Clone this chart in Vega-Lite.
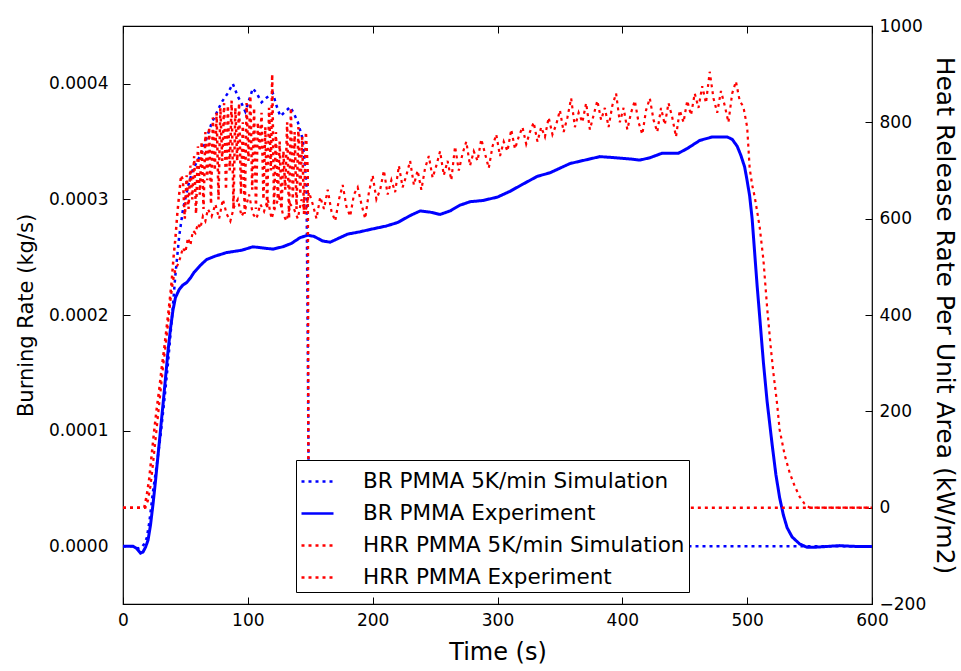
{
  "$schema": "https://vega.github.io/schema/vega-lite/v6.json",
  "width": 749,
  "height": 578,
  "autosize": {"type": "none"},
  "padding": {"left": 123, "top": 26, "right": 89, "bottom": 67},
  "background": "white",
  "config": {
    "font": "DejaVu Sans",
    "view": {"stroke": "black", "strokeWidth": 1.2},
    "axis": {
      "grid": false, "domain": false, "tickColor": "black", "tickSize": -7, "tickWidth": 1,
      "labelColor": "black", "titleColor": "black", "labelFont": "DejaVu Sans", "titleFont": "DejaVu Sans",
      "labelFontSize": 17, "titleFontSize": 21, "titleFontWeight": "normal"
    },
    "legend": {
      "orient": "none", "legendX": 173, "legendY": 434, "direction": "vertical",
      "strokeColor": "black", "fillColor": "white", "padding": 4, "cornerRadius": 0,
      "symbolType": "stroke", "symbolSize": 1024, "symbolStrokeWidth": 2.5,
      "labelFont": "DejaVu Sans", "labelFontSize": 21.5, "labelColor": "black", "labelOffset": 28,
      "rowPadding": 4, "labelLimit": 400
    }
  },
  "resolve": {"scale": {"y": "independent"}, "axis": {"x": "independent", "y": "independent"}},
  "layer": [
    {
      "data": {"values": [
        {"t":0,"v":0},{"t":8,"v":0},{"t":12,"v":-0.000002},{"t":15,"v":-0.000001},{"t":17,"v":0.000002},{"t":19,"v":0.000007},{"t":21,"v":0.00002},{"t":24,"v":0.000047},{"t":27,"v":0.00007},{"t":30,"v":0.000095},{"t":33,"v":0.000125},{"t":36,"v":0.000158},{"t":39,"v":0.000195},{"t":42,"v":0.000235},{"t":45,"v":0.000268},{"t":48,"v":0.000291},{"t":52,"v":0.000311},{"t":56,"v":0.000326},{"t":60,"v":0.000334},{"t":63,"v":0.00034},{"t":67,"v":0.000353},{"t":71,"v":0.000366},{"t":75,"v":0.000375},{"t":79,"v":0.000384},{"t":84,"v":0.000392},{"t":88,"v":0.0004},{"t":92,"v":0.000389},{"t":95,"v":0.000383},{"t":98,"v":0.000376},{"t":101,"v":0.000386},{"t":104,"v":0.000396},{"t":107,"v":0.000392},{"t":111,"v":0.000384},{"t":115,"v":0.000388},{"t":120,"v":0.000392},{"t":123,"v":0.000381},{"t":126,"v":0.000372},{"t":130,"v":0.000376},{"t":134,"v":0.00038},{"t":137,"v":0.000374},{"t":140,"v":0.000367},{"t":144,"v":0.000352},{"t":147,"v":0.000311},{"t":148,"v":0.00018},{"t":149,"v":0},{"t":250,"v":0},{"t":350,"v":0},{"t":450,"v":0},{"t":600,"v":0}
      ]},
      "mark": {"type": "line", "strokeWidth": 2.5, "strokeCap": "butt"},
      "encoding": {
        "x": {"field": "t", "type": "quantitative", "scale": {"domain": [0, 600], "nice": false},
              "axis": {"orient": "bottom", "values": [0,100,200,300,400,500,600], "title": "Time (s)", "titleFontSize": 24, "labelPadding": 15, "titlePadding": 12, "labelFlush": false}},
        "y": {"field": "v", "type": "quantitative", "scale": {"domain": [-0.00005, 0.00045], "nice": false, "zero": false},
              "axis": {"orient": "left", "values": [0,0.0001,0.0002,0.0003,0.0004], "format": ".4f", "title": "Burning Rate (kg/s)", "labelPadding": 22, "titlePadding": 12}},
        "color": {"datum": "BR PMMA 5K/min Simulation", "type": "nominal",
                  "scale": {"domain": ["BR PMMA 5K/min Simulation","BR PMMA Experiment","HRR PMMA 5K/min Simulation","HRR PMMA Experiment"], "range": ["#0000ff","#0000ff","#ff0000","#ff0000"]},
                  "legend": {"title": null}},
        "strokeDash": {"datum": "BR PMMA 5K/min Simulation", "type": "nominal",
                  "scale": {"domain": ["BR PMMA 5K/min Simulation","BR PMMA Experiment","HRR PMMA 5K/min Simulation","HRR PMMA Experiment"], "range": [[3,4],[1,0],[3,4],[3,4]]},
                  "legend": {"title": null}}
      }
    },
    {
      "data": {"values": [
        {"t":0,"v":0},{"t":8,"v":0},{"t":11,"v":-0.000002},{"t":14,"v":-0.000006},{"t":16,"v":-0.000005},{"t":18,"v":-0.000001},{"t":20,"v":0.000005},{"t":22,"v":0.000018},{"t":24,"v":0.000036},{"t":26,"v":0.000056},{"t":28,"v":0.000078},{"t":30,"v":0.0001},{"t":32,"v":0.000122},{"t":34,"v":0.000145},{"t":36,"v":0.000168},{"t":38,"v":0.000188},{"t":40,"v":0.000204},{"t":42,"v":0.000215},{"t":45,"v":0.000222},{"t":48,"v":0.000226},{"t":51,"v":0.000228},{"t":54,"v":0.000232},{"t":57,"v":0.000237},{"t":62,"v":0.000243},{"t":67,"v":0.000248},{"t":74,"v":0.000251},{"t":83,"v":0.000254},{"t":95,"v":0.000256},{"t":104,"v":0.000259},{"t":112,"v":0.000258},{"t":120,"v":0.000257},{"t":128,"v":0.000259},{"t":135,"v":0.000262},{"t":142,"v":0.000267},{"t":148,"v":0.000269},{"t":153,"v":0.000268},{"t":160,"v":0.000264},{"t":166,"v":0.000263},{"t":172,"v":0.000266},{"t":180,"v":0.00027},{"t":190,"v":0.000272},{"t":198,"v":0.000274},{"t":211,"v":0.000277},{"t":220,"v":0.00028},{"t":230,"v":0.000286},{"t":238,"v":0.00029},{"t":246,"v":0.000289},{"t":254,"v":0.000287},{"t":262,"v":0.00029},{"t":270,"v":0.000295},{"t":278,"v":0.000298},{"t":288,"v":0.000299},{"t":300,"v":0.000302},{"t":310,"v":0.000307},{"t":320,"v":0.000313},{"t":332,"v":0.00032},{"t":342,"v":0.000323},{"t":350,"v":0.000327},{"t":358,"v":0.000331},{"t":370,"v":0.000334},{"t":382,"v":0.000337},{"t":395,"v":0.000336},{"t":406,"v":0.000335},{"t":414,"v":0.000334},{"t":422,"v":0.000336},{"t":432,"v":0.00034},{"t":440,"v":0.00034},{"t":445,"v":0.00034},{"t":452,"v":0.000344},{"t":462,"v":0.000351},{"t":472,"v":0.000354},{"t":484,"v":0.000354},{"t":488,"v":0.000352},{"t":492,"v":0.000346},{"t":495,"v":0.000338},{"t":498,"v":0.000328},{"t":500,"v":0.000316},{"t":502,"v":0.000303},{"t":504,"v":0.000283},{"t":506,"v":0.000254},{"t":508,"v":0.000225},{"t":510,"v":0.000199},{"t":513,"v":0.000159},{"t":516,"v":0.000125},{"t":520,"v":0.000088},{"t":523,"v":0.000062},{"t":526,"v":0.000042},{"t":529,"v":0.000027},{"t":532,"v":0.000016},{"t":536,"v":0.000008},{"t":542,"v":0.000002},{"t":548,"v":-0.000001},{"t":553,"v":-0.000001},{"t":560,"v":-0.0000005},{"t":567,"v":0},{"t":574,"v":0.0000005},{"t":582,"v":0},{"t":590,"v":-0.0000003},{"t":600,"v":-0.0000003}
      ]},
      "mark": {"type": "line", "strokeWidth": 3},
      "encoding": {
        "x": {"field": "t", "type": "quantitative", "scale": {"domain": [0, 600], "nice": false}, "axis": null},
        "y": {"field": "v", "type": "quantitative", "scale": {"domain": [-0.00005, 0.00045], "nice": false, "zero": false}, "axis": null},
        "color": {"datum": "BR PMMA Experiment", "type": "nominal",
                  "scale": {"domain": ["BR PMMA 5K/min Simulation","BR PMMA Experiment","HRR PMMA 5K/min Simulation","HRR PMMA Experiment"], "range": ["#0000ff","#0000ff","#ff0000","#ff0000"]},
                  "legend": {"title": null}},
        "strokeDash": {"datum": "BR PMMA Experiment", "type": "nominal",
                  "scale": {"domain": ["BR PMMA 5K/min Simulation","BR PMMA Experiment","HRR PMMA 5K/min Simulation","HRR PMMA Experiment"], "range": [[3,4],[1,0],[3,4],[3,4]]},
                  "legend": {"title": null}}
      }
    },
    {
      "data": {"values": [
        {"t":0,"v":0},{"t":10,"v":0},{"t":17,"v":0},{"t":19,"v":25},{"t":21,"v":60},{"t":23,"v":110},{"t":25,"v":160},{"t":27,"v":205},{"t":29,"v":245},{"t":31,"v":290},{"t":33,"v":330},{"t":35,"v":375},{"t":37,"v":420},{"t":39,"v":470},{"t":40.5,"v":520},{"t":42,"v":560},{"t":43.5,"v":610},{"t":45,"v":650},{"t":46.5,"v":690},{"t":48,"v":680},{"t":49.5,"v":600},{"t":51,"v":690},{"t":52.5,"v":620},{"t":54,"v":710},{"t":55.5,"v":640},{"t":57,"v":730},{"t":58.5,"v":610},{"t":60,"v":750},{"t":61.5,"v":650},{"t":63,"v":760},{"t":64.5,"v":620},{"t":66,"v":780},{"t":67.5,"v":680},{"t":69,"v":790},{"t":70.5,"v":630},{"t":72,"v":810},{"t":73.5,"v":700},{"t":75,"v":820},{"t":76.5,"v":640},{"t":78,"v":830},{"t":79.5,"v":720},{"t":81,"v":840},{"t":82.5,"v":660},{"t":84,"v":835},{"t":85.5,"v":700},{"t":87,"v":845},{"t":88.5,"v":620},{"t":90,"v":830},{"t":91.5,"v":720},{"t":93,"v":840},{"t":94.5,"v":650},{"t":96,"v":800},{"t":97.5,"v":610},{"t":99,"v":840},{"t":100.5,"v":720},{"t":102,"v":855},{"t":103.5,"v":660},{"t":105,"v":830},{"t":106.5,"v":620},{"t":108,"v":800},{"t":109.5,"v":740},{"t":111,"v":820},{"t":112.5,"v":640},{"t":114,"v":790},{"t":115.5,"v":620},{"t":117,"v":830},{"t":118.5,"v":700},{"t":119.5,"v":900},{"t":121,"v":620},{"t":122.5,"v":780},{"t":124,"v":640},{"t":125.5,"v":760},{"t":127,"v":620},{"t":128.5,"v":740},{"t":130,"v":660},{"t":131.5,"v":800},{"t":133,"v":600},{"t":134.5,"v":830},{"t":136,"v":640},{"t":137.5,"v":780},{"t":139,"v":620},{"t":140.5,"v":790},{"t":142,"v":650},{"t":143.5,"v":770},{"t":145,"v":610},{"t":146.5,"v":780},{"t":148,"v":700},{"t":148.6,"v":0},{"t":250,"v":0},{"t":350,"v":0},{"t":450,"v":0},{"t":600,"v":0}
      ]},
      "mark": {"type": "line", "strokeWidth": 2.5, "strokeCap": "butt"},
      "encoding": {
        "x": {"field": "t", "type": "quantitative", "scale": {"domain": [0, 600], "nice": false},
              "axis": {"orient": "top", "values": [0,100,200,300,400,500,600], "labels": false, "title": null}},
        "y": {"field": "v", "type": "quantitative", "scale": {"domain": [-200, 1000], "nice": false, "zero": false},
              "axis": {"orient": "right", "values": [-200,0,200,400,600,800,1000], "format": "d", "title": "Heat Release Rate Per Unit Area (kW/m2)", "titleFontSize": 25, "labelPadding": 14, "titlePadding": 6}},
        "color": {"datum": "HRR PMMA 5K/min Simulation", "type": "nominal",
                  "scale": {"domain": ["BR PMMA 5K/min Simulation","BR PMMA Experiment","HRR PMMA 5K/min Simulation","HRR PMMA Experiment"], "range": ["#0000ff","#0000ff","#ff0000","#ff0000"]},
                  "legend": {"title": null}},
        "strokeDash": {"datum": "HRR PMMA 5K/min Simulation", "type": "nominal",
                  "scale": {"domain": ["BR PMMA 5K/min Simulation","BR PMMA Experiment","HRR PMMA 5K/min Simulation","HRR PMMA Experiment"], "range": [[3,4],[1,0],[3,4],[3,4]]},
                  "legend": {"title": null}}
      }
    },
    {
      "data": {"values": [
        {"t":0,"v":0},{"t":10,"v":0},{"t":18,"v":0},{"t":20,"v":15},{"t":22,"v":45},{"t":24,"v":90},{"t":26,"v":140},{"t":28,"v":190},{"t":30,"v":240},{"t":32,"v":290},{"t":34,"v":335},{"t":36,"v":380},{"t":38,"v":430},{"t":40,"v":470},{"t":42,"v":495},{"t":44,"v":505},{"t":46,"v":520},{"t":48,"v":540},{"t":50,"v":530},{"t":52,"v":560},{"t":54,"v":545},{"t":56,"v":575},{"t":58,"v":570},{"t":60,"v":590},{"t":62,"v":580},{"t":64,"v":605},{"t":66,"v":595},{"t":68,"v":620},{"t":71,"v":605},{"t":74,"v":630},{"t":77,"v":600},{"t":80,"v":640},{"t":83,"v":610},{"t":86,"v":595},{"t":89,"v":625},{"t":92,"v":640},{"t":95,"v":605},{"t":98,"v":620},{"t":101,"v":650},{"t":104,"v":610},{"t":107,"v":600},{"t":110,"v":630},{"t":113,"v":615},{"t":116,"v":640},{"t":119,"v":600},{"t":122,"v":625},{"t":125,"v":645},{"t":128,"v":610},{"t":131,"v":595},{"t":134,"v":630},{"t":137,"v":620},{"t":140,"v":600},{"t":143,"v":640},{"t":146,"v":610},{"t":149,"v":655},{"t":152,"v":630},{"t":155,"v":600},{"t":158,"v":645},{"t":161,"v":620},{"t":164,"v":660},{"t":167,"v":615},{"t":170,"v":595},{"t":173,"v":640},{"t":176,"v":670},{"t":179,"v":625},{"t":182,"v":605},{"t":185,"v":650},{"t":188,"v":665},{"t":191,"v":630},{"t":194,"v":600},{"t":197,"v":655},{"t":200,"v":690},{"t":203,"v":640},{"t":206,"v":660},{"t":209,"v":700},{"t":212,"v":650},{"t":215,"v":680},{"t":218,"v":655},{"t":221,"v":710},{"t":224,"v":665},{"t":227,"v":690},{"t":230,"v":720},{"t":233,"v":670},{"t":236,"v":700},{"t":239,"v":660},{"t":242,"v":705},{"t":245,"v":730},{"t":248,"v":685},{"t":251,"v":710},{"t":254,"v":740},{"t":257,"v":690},{"t":260,"v":720},{"t":263,"v":680},{"t":266,"v":750},{"t":269,"v":700},{"t":272,"v":735},{"t":275,"v":760},{"t":278,"v":710},{"t":281,"v":740},{"t":284,"v":720},{"t":287,"v":765},{"t":290,"v":735},{"t":293,"v":705},{"t":296,"v":750},{"t":299,"v":775},{"t":302,"v":730},{"t":305,"v":760},{"t":308,"v":740},{"t":311,"v":785},{"t":314,"v":745},{"t":317,"v":770},{"t":320,"v":790},{"t":323,"v":755},{"t":326,"v":780},{"t":329,"v":800},{"t":332,"v":760},{"t":335,"v":790},{"t":338,"v":770},{"t":341,"v":810},{"t":344,"v":775},{"t":347,"v":795},{"t":350,"v":825},{"t":353,"v":780},{"t":356,"v":810},{"t":359,"v":850},{"t":362,"v":790},{"t":365,"v":820},{"t":368,"v":800},{"t":371,"v":840},{"t":374,"v":785},{"t":377,"v":815},{"t":380,"v":845},{"t":383,"v":805},{"t":386,"v":830},{"t":389,"v":790},{"t":392,"v":835},{"t":395,"v":860},{"t":398,"v":800},{"t":401,"v":830},{"t":404,"v":785},{"t":407,"v":820},{"t":410,"v":845},{"t":413,"v":800},{"t":416,"v":775},{"t":419,"v":825},{"t":422,"v":850},{"t":425,"v":805},{"t":428,"v":780},{"t":431,"v":830},{"t":434,"v":795},{"t":437,"v":840},{"t":440,"v":810},{"t":443,"v":770},{"t":446,"v":825},{"t":449,"v":800},{"t":452,"v":845},{"t":455,"v":815},{"t":458,"v":860},{"t":461,"v":830},{"t":464,"v":875},{"t":467,"v":840},{"t":470,"v":905},{"t":473,"v":850},{"t":476,"v":820},{"t":479,"v":865},{"t":482,"v":835},{"t":485,"v":800},{"t":488,"v":860},{"t":491,"v":885},{"t":494,"v":845},{"t":497,"v":832},{"t":500,"v":790},{"t":502,"v":705},{"t":504,"v":670},{"t":506,"v":646},{"t":508,"v":615},{"t":510,"v":583},{"t":513,"v":515},{"t":516,"v":415},{"t":519,"v":330},{"t":521,"v":280},{"t":524,"v":215},{"t":526,"v":162},{"t":530,"v":110},{"t":534,"v":73},{"t":538,"v":45},{"t":542,"v":23},{"t":546,"v":8},{"t":550,"v":0},{"t":560,"v":0},{"t":570,"v":0},{"t":580,"v":0},{"t":590,"v":0},{"t":600,"v":0}
      ]},
      "mark": {"type": "line", "strokeWidth": 2.2, "strokeCap": "butt"},
      "encoding": {
        "x": {"field": "t", "type": "quantitative", "scale": {"domain": [0, 600], "nice": false}, "axis": null},
        "y": {"field": "v", "type": "quantitative", "scale": {"domain": [-200, 1000], "nice": false, "zero": false}, "axis": null},
        "color": {"datum": "HRR PMMA Experiment", "type": "nominal",
                  "scale": {"domain": ["BR PMMA 5K/min Simulation","BR PMMA Experiment","HRR PMMA 5K/min Simulation","HRR PMMA Experiment"], "range": ["#0000ff","#0000ff","#ff0000","#ff0000"]},
                  "legend": {"title": null}},
        "strokeDash": {"datum": "HRR PMMA Experiment", "type": "nominal",
                  "scale": {"domain": ["BR PMMA 5K/min Simulation","BR PMMA Experiment","HRR PMMA 5K/min Simulation","HRR PMMA Experiment"], "range": [[3,4],[1,0],[3,4],[3,4]]},
                  "legend": {"title": null}}
      }
    }
  ]
}
